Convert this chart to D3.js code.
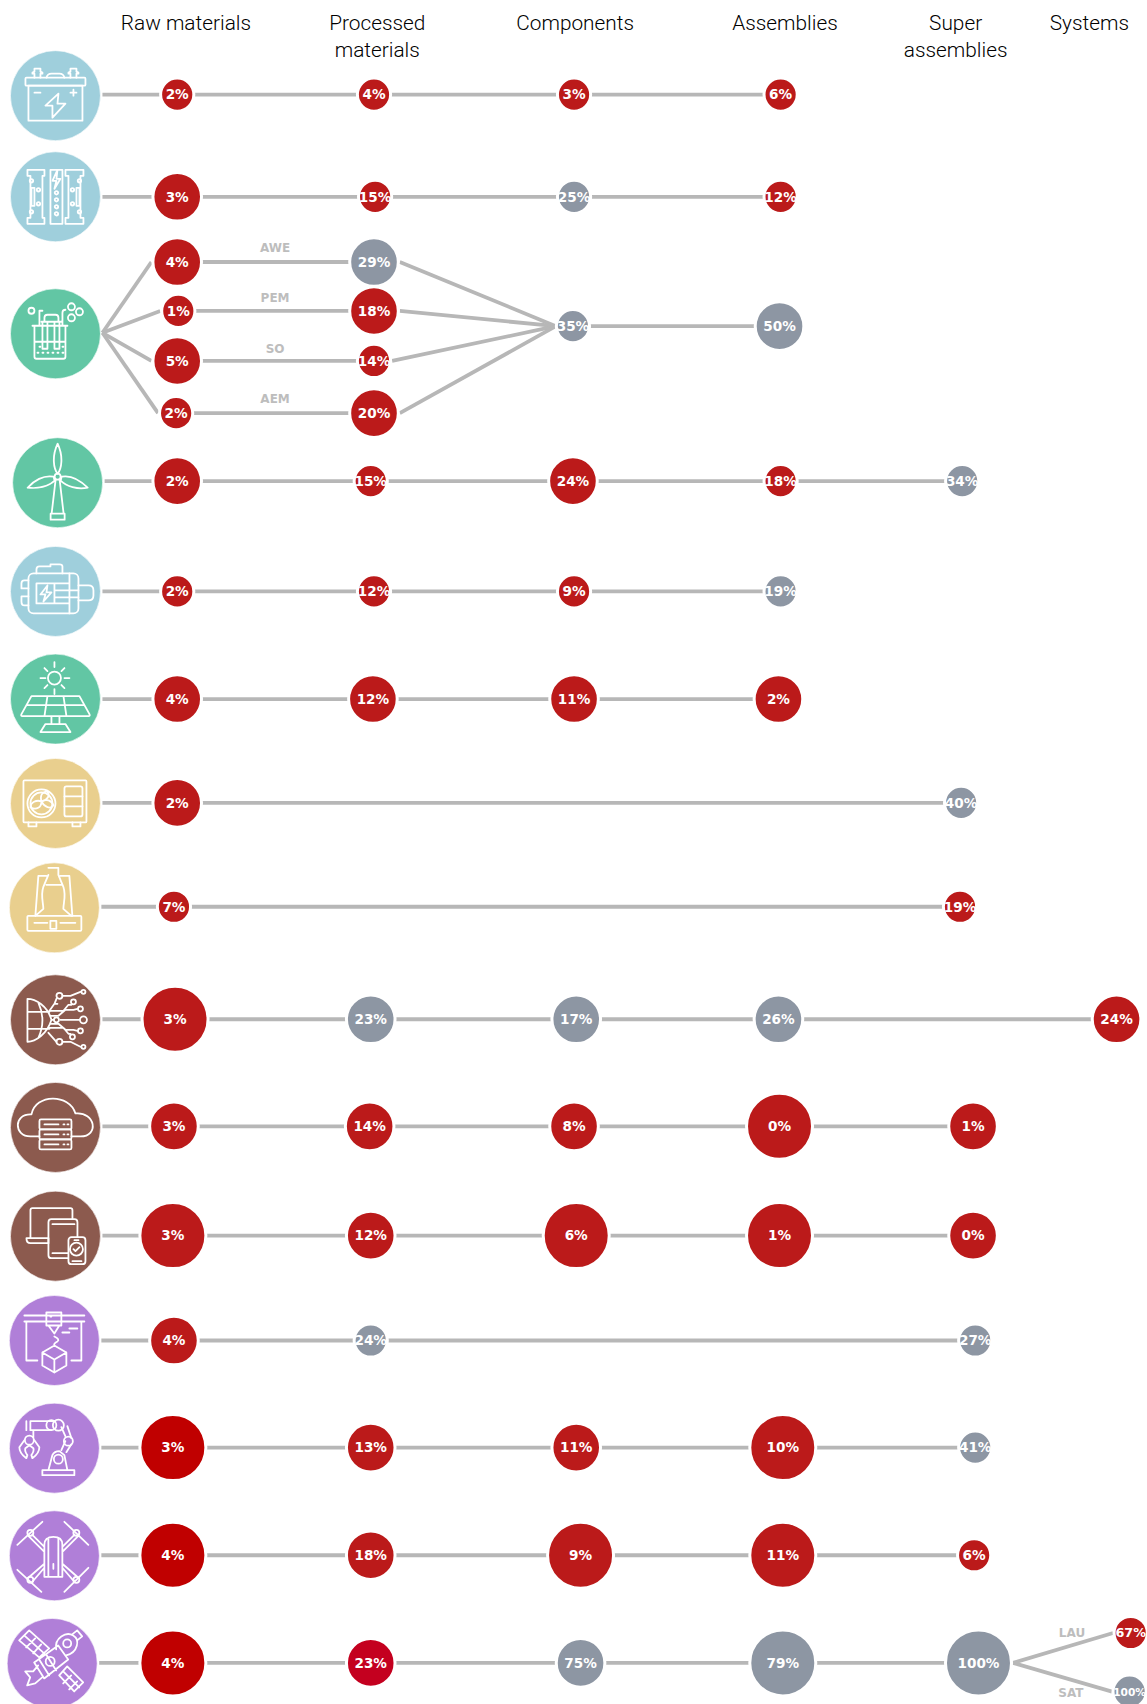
<!DOCTYPE html>
<html><head><meta charset="utf-8">
<style>html,body{margin:0;padding:0;background:#fff;overflow:hidden}svg{display:block}</style>
<script src="https://cdn.jsdelivr.net/npm/d3@7"></script></head>
<body><svg id="c" width="1147" height="1704"></svg>
<script>
// ---------- DATA ----------
const stageNames = ['Raw materials','Processed materials','Components','Assemblies','Super assemblies','Systems'];
const headerLines = [['Raw materials'],['Processed','materials'],['Components'],['Assemblies'],['Super','assemblies'],['Systems']];
const rowNames = ['Batteries','Fuel cells','Electrolysers','Wind','Motors','Solar PV','Heat pumps','Furnaces','AI','Cloud','Devices','3D printing','Robotics','Drones','Space'];
const rowFamily = ['store','store','clean','clean','store','clean','heat','heat','digital','digital','digital','adv','adv','adv','adv'];
const laneNames = ['Batteries','Fuel cells','AWE','PEM','SO','AEM','Stack','Wind','Motors','Solar PV','Heat pumps','Furnaces','AI','Cloud','Devices','3D printing','Robotics','Drones','Space','LAU','SAT'];
const laneShares = [
 [2,4,3,6,null,null],[3,15,25,12,null,null],
 [4,29,null,null,null,null],[1,18,null,null,null,null],[5,14,null,null,null,null],[2,20,null,null,null,null],
 [null,null,35,50,null,null],
 [2,15,24,18,34,null],[2,12,9,19,null,null],[4,12,11,2,null,null],
 [2,null,null,null,40,null],[7,null,null,null,19,null],
 [3,23,17,26,null,24],[3,14,8,0,1,null],[3,12,6,1,0,null],
 [4,24,null,null,27,null],[3,13,11,10,41,null],[4,18,9,11,6,null],[4,23,75,79,100,null],
 [null,null,null,null,null,67],[null,null,null,null,null,100]];
const laneTiers = [
 [1,1,1,1,0,0],[2,1,1,1,0,0],
 [2,2,0,0,0,0],[1,2,0,0,0,0],[2,1,0,0,0,0],[1,2,0,0,0,0],
 [0,0,1,2,0,0],
 [2,1,2,1,1,0],[1,1,1,1,0,0],[2,2,2,2,0,0],
 [2,0,0,0,1,0],[1,0,0,0,1,0],
 [3,2,2,2,0,2],[2,2,2,3,2,0],[3,2,3,3,2,0],
 [2,1,0,0,1,0],[3,2,2,3,1,0],[3,2,3,3,1,0],[3,2,2,3,3,0],
 [0,0,0,0,0,1],[0,0,0,0,0,1]];
const laneTones = ['rrrr','rrgr','rg','rr','rr','rr','__gg','rrrrg','rrrg','rrrr','r___g','r___r','rggg_r','rrrrr','rrrrr','rg__g','drrrg','drrrr','dcggg','_____r','_____g'].map(s=>s.split(''));
const forkLabels = ['AWE','PEM','SO','AEM','LAU','SAT'];

// ---------- LAYOUT (not data) ----------
const k = 1147/1055;
const W = 1147, H = 1704;
const xStage = d3.scaleOrdinal(stageNames,[163,344,528,718,885,1040].map(v=>v*k));
const yLane = d3.scaleOrdinal(laneNames,[87,181,241,286,332,380,300,442.5,544,643,738.5,834,937.5,1036,1136.5,1233,1331.5,1430.5,1529.5,1502,1556].map(v=>v*k));
const yRow = d3.scaleOrdinal(rowNames,[88,181,307,444,544,643,739,835,938,1037,1137,1233,1332,1431,1530].map(v=>v*k));
const xRow = d3.scaleOrdinal(rowNames,[51,51,51,53,51,51,51,50,51,51,51,50,50,50,48].map(v=>v*k));
const laneNudge = [
 [0,0,0,0],[0,1,0,0],[0,0],[1,0],[0,0],[-1,0],[0,0,-1,-1],
 [0,-3,-1,0,0],[0,0,0,0],[0,-1,0,-2],[0,0,0,0,-1],[-3,0,0,0,-2],
 [-2,-3,2,-2,0,-13],[-3,-4,0,-1,10],[-4,-3,2,-1,10],[-3,-3,0,0,12],[-4,-3,2,2,12],[-4,-3,6,2,11],[-4,-3,6,2,15],
 [0,0,0,0,0,0],[0,0,0,0,0,-1]];
const rScale = d3.scaleOrdinal([1,2,3],[16.6,24.3,33]);
const toneColor = d3.scaleOrdinal(['r','g','d','c'],['#bb1a1a','#8d96a3','#c00000','#c4001f']);
const familyColor = d3.scaleOrdinal(['store','clean','heat','digital','adv'],['#9fcfdc','#62c6a4','#e9cf8e','#8c5a4e','#b07fd8']);
const LINE = '#b7b7b7';
const R = 45;

const svg = d3.select('#c');
svg.append('rect').attr('width',W).attr('height',H).attr('fill','#fff');

// ---------- HEADERS ----------
const headerX = d3.scaleOrdinal(stageNames,[171,347,529,722,879,1002].map(v=>v*k));
const hdr = svg.append('g').attr('font-family','Roboto, sans-serif').attr('font-weight',300).attr('font-size',20.8).attr('fill','#000').attr('text-anchor','middle');
stageNames.forEach((s,i)=>{
  headerLines[i].forEach((t,j)=>hdr.append('text').attr('x',headerX(s)).attr('y',30+j*27).text(t));
});

// ---------- NODES ----------
const nodes = [];
laneNames.forEach((ln,i)=>laneShares[i].forEach((v,j)=>{
  if(v===null) return;
  const r = rScale(laneTiers[i][j]);
  nodes.push({lane:ln,li:i,stage:j,v,r,tone:laneTones[i][j],
    x:xStage(stageNames[j])+(laneNudge[i][j]||0)*k, y:yLane(ln)});
}));
const laneNodes = ln => nodes.filter(n=>n.lane===ln);
const find = (ln,s)=>nodes.find(n=>n.lane===ln&&n.stage===s);

// ---------- LINES ----------
const gl = svg.append('g').attr('fill','none').attr('stroke',LINE).attr('stroke-width',3.8);
const path = d3.line();
const seg = pts => gl.append('path').attr('d',path(pts));
const edge = rn => xRow(rn)+R+2;

const singleLanes = ['Batteries','Fuel cells','Wind','Motors','Solar PV','Heat pumps','Furnaces','AI','Cloud','Devices','3D printing','Robotics','Drones','Space'];
singleLanes.forEach(rn=>{
  const ns = laneNodes(rn);
  seg([[edge(rn),yLane(rn)],...ns.map(n=>[n.x,n.y])]);
});
// electrolyser fork
const fork = ['AWE','PEM','SO','AEM'];
const stackComp = find('Stack',2), stackAsm = find('Stack',3);
const hub = [stackComp.x-stackComp.r-0.5, stackComp.y];
fork.forEach(f=>{
  const a = find(f,0), b = find(f,1);
  seg([[edge('Electrolysers'),yRow('Electrolysers')-1],[a.x-a.r-1.5,a.y]]);
  seg([[a.x,a.y],[b.x,b.y]]);
  seg([[b.x+b.r+1.5,b.y],hub]);
});
seg([[stackComp.x,stackComp.y],[stackAsm.x,stackAsm.y]]);
// space fork
const sup = find('Space',4);
['LAU','SAT'].forEach(f=>{
  const n = find(f,5);
  seg([[sup.x+sup.r+1.5,sup.y],[n.x-n.r-1,n.y]]);
});

// ---------- BUBBLES ----------
const gb = svg.append('g');
gb.selectAll('circle').data(nodes).join('circle')
  .attr('cx',d=>d.x).attr('cy',d=>d.y).attr('r',d=>d.r)
  .attr('fill',d=>toneColor(d.tone)).attr('stroke','#fff').attr('stroke-width',3);
gb.selectAll('text').data(nodes).join('text')
  .attr('x',d=>d.x).attr('y',d=>d.y+4.8).attr('text-anchor','middle')
  .attr('font-family','"DejaVu Sans", sans-serif').attr('font-weight',700).attr('font-size',13.6).attr('fill','#fff')
  .text(d=>d.v+'%')
  .each(function(d){           // keep labels at the page edge inside the frame
    const room = 2*(W-1-d.x), len = this.getComputedTextLength();
    if(len>room) d3.select(this).attr('font-size',13.6*room/len).attr('y',d.y+4);
  });

// ---------- FORK LABELS ----------
const labelPos = {AWE:[253,232],PEM:[253,278],SO:[253,325],AEM:[253,371],LAU:[986,1506],SAT:[985,1561]};
svg.append('g').attr('font-family','"DejaVu Sans", sans-serif').attr('font-weight',700).attr('font-size',12).attr('fill','#bdbdbd').attr('text-anchor','middle')
  .selectAll('text').data(forkLabels).join('text')
  .attr('x',d=>labelPos[d][0]*k).attr('y',d=>labelPos[d][1]*k).text(d=>d);

// ---------- ICONS ----------
const iconArt = {
 'Batteries':`<rect x="-30" y="-18" width="60" height="8" rx="1"/><rect x="-27" y="-10" width="54" height="35"/><path d="M-21-18v-4h-2v-1l2-1v-3h6v3l2 1v1h-2v4M15-18v-4h-2v-1l2-1v-3h6v3l2 1v1h-2v4M-9-18q1-4 5-4h8q4 0 5 4M-21-3h6M15-3h6M18-6v6M3-2L-10 10h7L-3 22 10 8H2z"/>`,
 'Fuel cells':`<path d="M-28-27H-11V-21H-13V21H-11V27H-28V21H-25V-21H-28zM-5-27H7V27H-5zM28-27H10V-21H13V21H10V27H28V21H25V-21H28z"/><rect x="-24" y="-9" width="3" height="18"/><rect x="21" y="-9" width="3" height="18"/><path d="M2-27L-3-16 1-16-1-8 5-18 1-18z"/><circle cx="-24" cy="-16" r="1.7"/><circle cx="-17" cy="-7" r="1.7"/><circle cx="-17" cy="7" r="1.7"/><circle cx="-24" cy="15" r="1.7"/><circle cx="1" cy="-4" r="1.7"/><circle cx="1" cy="3" r="1.7"/><circle cx="1" cy="10" r="1.7"/><circle cx="1" cy="17" r="1.7"/><circle cx="24" cy="-16" r="1.7"/><circle cx="17" cy="-7" r="1.7"/><circle cx="17" cy="7" r="1.7"/><circle cx="24" cy="15" r="1.7"/>`,
 'Electrolysers':`<path d="M-23-8H12M-21-8V23Q-21 25-19 25H8Q10 25 10 23V-8M-21 8H10M-13-12V15H-8V-12M-1-12V15H4V-12M-14-12H6M-11-12V-16Q-11-19-8-19H0Q3-19 3-16V-12M-16-8V-23H-13M7-8V-21Q7-24 10-24"/><circle cx="-24" cy="-23" r="3"/><circle cx="16" cy="-27" r="3.5"/><circle cx="24" cy="-22" r="3.5"/><circle cx="16" cy="-16" r="3.5"/><path stroke-dasharray="1 4" d="M-18 19H8M-16 13H-14M7 13H9"/>`,
 'Wind':`<path d="M0-39C-6-26-4-14 0-9 4-14 6-26 0-39zM-4-6C-14-8-24-2-30 5-20 6-9 4-3-2zM4-6C14-8 24-1 30 5 20 7 9 4 3-2zM-2-3L-6 31M2-3L6 31M-7 31H7V37H-7z"/><circle cx="0" cy="-6" r="3"/>`,
 'Motors':`<rect x="-27" y="-18" width="50" height="40" rx="5"/><path d="M-27-11H-31Q-34-11-34-8V-3H-27M-27 5H-34V10Q-34 14-31 14H-27M23-6H33Q38-6 38-1V4Q38 9 33 9H23M-19-18V-22Q-19-25-16-25H-5V-27H4Q7-27 7-25V-18M-19-8H-1V12H-19zM-1-8H14M-1-1H23M-1 6H23M-1 12H14M14-18V22M-8-6L-15 3H-10L-12 10-4 1H-9z"/>`,
 'Solar PV':`<path d="M-24-3H24L34 15Q35 17 33 17H-33Q-35 17-34 15zM-29 6H29M-8-3L-11 17M8-3L11 17M-4 17V25H4V17M-15 33H15L10 25H-10zM-1-10V-5M-1-37V-32M-15-21H-10M9-21H14M-11-31L-8-28M9-31L6-28M-11-11L-8-14M9-11L6-14"/><circle cx="-1" cy="-21" r="6.5"/>`,
 'Heat pumps':`<rect x="-32" y="-23" width="63" height="42" rx="1"/><rect x="9" y="-17" width="18" height="30" rx="2"/><path d="M9-7H27M9 3H27M-27 19V23H-19V19M17 19V23H25V19M-14-2C-16-9-12-12-8-12-5-8-8-3-14-2zM-14-2C-9-5-4-3-2 2-5 6-11 4-14-2zM-14-2C-14 4-19 7-25 4-25-1-19-4-14-2z"/><circle cx="-14" cy="0" r="14"/><circle cx="-14" cy="0" r="11"/>`,
 'Furnaces':`<rect x="-27" y="8" width="54" height="15" rx="1"/><path d="M-16-32L-19 8M15-32L18 8M-16-32H-8M6-32H15M-6-40H4V-33L9-21C12-12 9-5 9 1L17 8M-6-33L-11-21C-14-12-11-5-11 1L-19 8M-8-23H7M-20 15H-7M-4 13H2V21H-4zM6 15H21"/>`,
 'AI':`<path d="M-28-21V22C-20 22-8 14-4 0-8-14-20-21-28-21zM-28-8H-6M-28 9H-6M-17-17C-12-6-12 7-17 18M-4 0H-2M-6-9L-1-16H2M-6-9H8L13-15H16M-5-4H3L10-10H18L22-11M-1-16L1-21M7-24H15L25-28M5 0H24M-6 8H8L13 14H15M-5 4H3L10 10H18L22 11M-7 13L1 22M7 22H15L25 27"/><circle cx="4" cy="-24" r="3"/><circle cx="28" cy="-28" r="2"/><circle cx="18" cy="-18" r="2.5"/><circle cx="25" cy="-11" r="2.5"/><circle cx="28" cy="0" r="3.5"/><circle cx="1" cy="0" r="2.5"/><circle cx="25" cy="11" r="2.5"/><circle cx="17" cy="17" r="2.5"/><circle cx="4" cy="22" r="3"/><circle cx="28" cy="27" r="2"/>`,
 'Cloud':`<path d="M-16 9H-25C-42 9-42-14-24-13-20-34 14-34 20-14 40-16 44 9 25 9H16"/><rect x="-16" y="-8" width="32" height="10" rx="1.5"/><rect x="-16" y="2" width="32" height="10" rx="1.5"/><rect x="-16" y="12" width="32" height="10" rx="1.5"/><path d="M-11-3H3M-11 7H3M-11 17H3M8-3H9M12-3H13M8 7H9M12 7H13M8 17H9M12 17H13"/>`,
 'Devices':`<path d="M-25 2V-26Q-25-28-23-28H15Q17-28 17-26V-17M-29 2H-7V7H-25Q-29 7-29 2zM-12 2H-16"/><rect x="-7" y="-17" width="29" height="39" rx="3"/><path d="M-3-12H19M-3 17H13"/><rect x="13" y="1" width="17" height="27" rx="3" fill="#8c5a4e"/><circle cx="21" cy="13" r="6.5"/><path d="M18 13L20 15 24 11M19 4H23M17 25H26"/>`,
 '3D printing':`<path d="M-30-25H30M-30-19H30M-28-19V20H-17M27-19V20H17M-8-28H7V-15H-8zM-6-15H5L0-7zM0-4Q6-1 3 1 -1 3 0 5M8-8H15M15-12H23M0 5L12 12V25L0 32-12 25V12zM-12 12L0 19 12 12M0 19V32M-4-24H-3"/>`,
 'Robotics':`<path d="M-12 22H20V27H-12zM-6 22L-2 7Q0 3 5 3L10 7 13 22M12 4L17-4M7 2L11-7M11-12L7-21M17-10L13-22M1-27H-24V-18H-3M-21-18V-11M-28-27V-18"/><circle cx="4" cy="11" r="4.5"/><circle cx="14" cy="-7" r="4.5"/><circle cx="4" cy="-23" r="5.5"/><circle cx="-3" cy="-23" r="5"/><circle cx="-25" cy="-8" r="4.5"/><path d="M-30-8L-35-1Q-35 5-28 10L-27 7Q-30 3-29 0L-25-3-21 0Q-20 3-23 7L-22 10Q-15 5-15-1L-20-8"/>`,
 'Drones':`<path d="M-10 21V-11Q-10-19-1-19 8-19 8-11V21zM-6-18V21M4-18V21M-1 8V13M-10-9L-22-21M8-9L20-21M-10-4L-26-20M8-4L24-20M-10 12L-22 26M8 12L20 26M-10 8L-26 22M8 8L24 22M-37-11L-12-34M10-34L34-11M-37 14L-13 36M10 36L34 12"/><circle cx="-24" cy="-23" r="3"/><circle cx="22" cy="-23" r="3"/><circle cx="-24" cy="24" r="3"/><circle cx="22" cy="24" r="3"/>`,
 'Space':`<path d="M-33-23L-23-33-3-15-13-6zM-28-28L-8-10M-26-16L-17-25M-19-10L-11-19M7 12L15 3 31 19 22 28zM11 8L27 24M11 20L19 12M17 26L25 18M-18-1L6-18 16-4-8 15zM-13-4L-3 12M-6-9L4 7M-10 14L-17 20 -25 22-22 14-27 8-19 8-14 2M4-14C2-26 14-32 21-28 28-24 26-11 14-8M20-29L25-33 30-27 25-23"/><circle cx="15" cy="-20" r="4"/><circle cx="-2" cy="-2" r="4.5"/>`
};
const gi = svg.append('g');
rowNames.forEach((rn,i)=>{
  const g = gi.append('g').attr('transform',`translate(${xRow(rn)},${yRow(rn)})`);
  g.append('circle').attr('r',R).attr('fill',familyColor(rowFamily[i])).attr('stroke','#fff').attr('stroke-opacity',.6).attr('stroke-width',1);
  g.append('g').attr('fill','none').attr('stroke','#fff').attr('stroke-width',1.8).attr('stroke-linejoin','round').attr('stroke-linecap','round')
    .html(iconArt[rn]);
});
</script></body></html>
